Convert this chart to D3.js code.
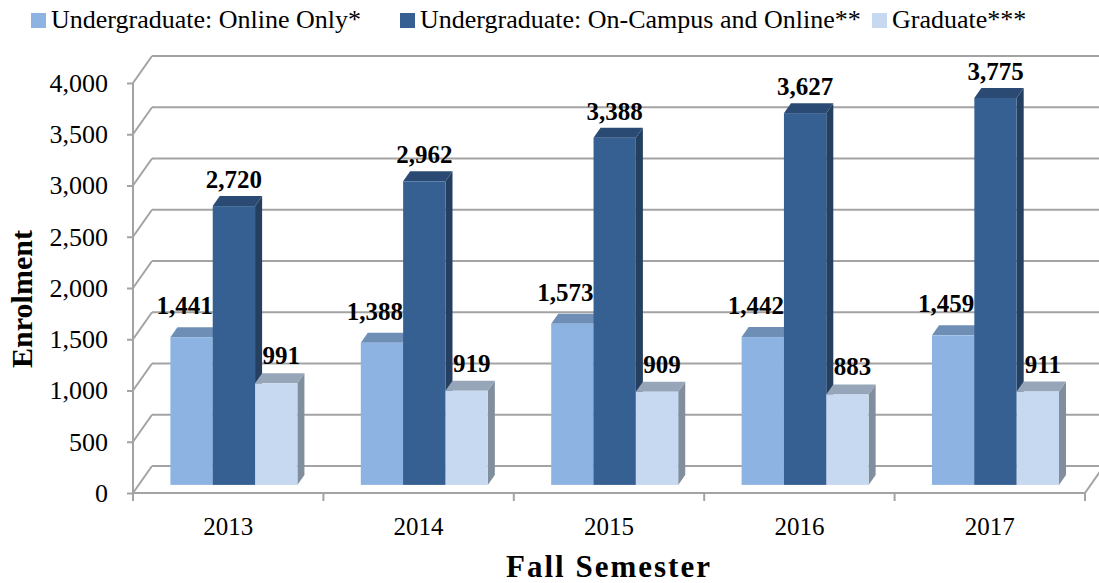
<!DOCTYPE html>
<html>
<head>
<meta charset="utf-8">
<script src="https://cdn.jsdelivr.net/npm/d3@7"></script>
<style>
  body { margin: 0; background: #fff; }
  svg text { font-family: "Liberation Serif", "Times New Roman", "DejaVu Serif", serif !important; }
</style>
</head>
<body>
<script>
// data
let years = ["2013", "2014", "2015", "2016", "2017"];
let series_names = ["Undergraduate: Online Only*", "Undergraduate: On-Campus and Online**", "Graduate***"];
let online_only = [1441, 1388, 1573, 1442, 1459];
let campus_online = [2720, 2962, 3388, 3627, 3775];
let graduate = [991, 919, 909, 883, 911];
let y_ticks = [0, 500, 1000, 1500, 2000, 2500, 3000, 3500, 4000];

let series = [online_only, campus_online, graduate];
let front = ["#8db3e2", "#366092", "#c6d9f1"];
let top_c = ["#6f8eb6", "#2b4a73", "#96a5b8"];
let side_c = ["#5f7ea6", "#243f60", "#808e9d"];

let serif = "'Liberation Serif', 'Times New Roman', serif";
let width = 1099, height = 583;
let margin = { top: 83, right: 1085, bottom: 493, left: 133 };
let depth = { dx: 19, dy: -27 };
let bar_z = [0.3, 0.67];

let svg = d3.select("body").append("svg")
  .attr("width", width).attr("height", height)
  .attr("font-family", serif);

let x = d3.scaleBand().domain(years)
  .range([margin.left, margin.right])
  .paddingInner(0.333).paddingOuter(0.1665);
let xs = d3.scaleBand().domain([0, 1, 2]).range([0, x.bandwidth()]);
let y = d3.scaleLinear().domain([0, 4000]).range([margin.bottom, margin.top]);

// projection of a point (front-plane x, value, depth z)
function P(px, v, z) {
  return [px + depth.dx * z, y(v) + depth.dy * z];
}

let grey = "#a3a3a3";

// walls: side wall diagonals + back wall gridlines
let grid = svg.append("g");
y_ticks.forEach(v => {
  let a = P(margin.left, v, 0), b = P(margin.left, v, 1);
  grid.append("line").attr("x1", a[0]).attr("y1", a[1]).attr("x2", b[0]).attr("y2", b[1])
    .attr("stroke", grey).attr("stroke-width", 2);
  grid.append("line").attr("x1", b[0]).attr("y1", b[1]).attr("x2", margin.right + depth.dx).attr("y2", b[1])
    .attr("stroke", grey).attr("stroke-width", 2);
});
// floor front edge and right edge
let f0 = P(margin.left, 0, 0), f1 = P(margin.right, 0, 0), f2 = P(margin.right, 0, 1);
grid.append("line").attr("x1", f0[0]).attr("y1", f0[1]).attr("x2", f1[0]).attr("y2", f1[1])
  .attr("stroke", grey).attr("stroke-width", 2);
grid.append("line").attr("x1", f1[0]).attr("y1", f1[1]).attr("x2", f2[0]).attr("y2", f2[1])
  .attr("stroke", grey).attr("stroke-width", 2);
// front vertical axis
grid.append("line").attr("x1", margin.left).attr("y1", y(4000)).attr("x2", margin.left).attr("y2", margin.bottom + 8)
  .attr("stroke", grey).attr("stroke-width", 2);

// y axis ticks + labels
let y_axis = svg.append("g").attr("transform", `translate(${margin.left},0)`)
  .call(d3.axisLeft(y).tickValues(y_ticks).tickSize(6).tickPadding(19).tickFormat(d3.format(",")))
  .attr("font-family", serif);
y_axis.select(".domain").remove();
y_axis.selectAll(".tick line").attr("stroke", grey).attr("stroke-width", 2);
y_axis.selectAll(".tick text").attr("font-size", 26).attr("fill", "#000")
  .style("font-family", serif);

// x axis labels + boundary ticks
let x_axis = svg.append("g").attr("transform", `translate(0,${margin.bottom})`)
  .call(d3.axisBottom(x).tickSize(0).tickPadding(24))
  .attr("font-family", serif);
x_axis.select(".domain").remove();
x_axis.selectAll(".tick text").attr("font-size", 25).attr("fill", "#000")
  .style("font-family", serif);
d3.range(years.length + 1).forEach(i => {
  let bx = margin.left + i * x.step();
  svg.append("line").attr("x1", bx).attr("x2", bx).attr("y1", margin.bottom).attr("y2", margin.bottom + 8)
    .attr("stroke", grey).attr("stroke-width", 2);
});

// bars
let bars = svg.append("g");
let poly = pts => pts.map(p => p.join(",")).join(" ");
years.forEach((yr, i) => {
  series.forEach((s, k) => {
    let v = s[i];
    let x0 = x(yr) + xs(k), x1 = x0 + xs.bandwidth();
    let z0 = bar_z[0], z1 = bar_z[1];
    bars.append("polygon")
      .attr("points", poly([P(x1, v, z0), P(x1, v, z1), P(x1, 0, z1), P(x1, 0, z0)]))
      .attr("fill", side_c[k]);
    bars.append("polygon")
      .attr("points", poly([P(x0, v, z0), P(x1, v, z0), P(x1, v, z1), P(x0, v, z1)]))
      .attr("fill", top_c[k]);
    let a = P(x0, v, z0), b = P(x1, 0, z0);
    bars.append("rect")
      .attr("x", a[0]).attr("y", a[1]).attr("width", b[0] - a[0]).attr("height", b[1] - a[1])
      .attr("fill", front[k]);
  });
});

// data labels
let label_dx = [-7, 0, 5];
let label_gap = [13, 8, 9];
let labels = svg.append("g");
years.forEach((yr, i) => {
  series.forEach((s, k) => {
    let v = s[i];
    let x0 = x(yr) + xs(k);
    let c = P(x0 + xs.bandwidth() / 2, v, bar_z[0]);
    let t = P(x0, v, bar_z[1]);
    labels.append("text")
      .attr("x", c[0] + label_dx[k])
      .attr("y", t[1] - label_gap[k])
      .attr("text-anchor", "middle")
      .attr("font-size", 25).attr("font-weight", "bold")
      .style("font-family", serif)
      .text(d3.format(",")(v));
  });
});

// legend
let legend_x = [31, 400, 872];
let legend = svg.append("g");
series_names.forEach((n, k) => {
  legend.append("rect").attr("x", legend_x[k]).attr("y", 13).attr("width", 15).attr("height", 15)
    .attr("fill", front[k]);
  legend.append("text").attr("x", legend_x[k] + 20).attr("y", 28)
    .attr("font-size", 26).style("font-family", serif).text(n);
});

// axis titles
svg.append("text")
  .attr("transform", "translate(32,299) rotate(-90)")
  .attr("text-anchor", "middle")
  .attr("font-size", 30).attr("font-weight", "bold")
  .style("font-family", serif)
  .text("Enrolment");
svg.append("text")
  .attr("x", 609).attr("y", 577)
  .attr("text-anchor", "middle")
  .attr("font-size", 31).attr("font-weight", "bold")
  .attr("letter-spacing", 2)
  .style("font-family", serif)
  .text("Fall Semester");
</script>
</body>
</html>
